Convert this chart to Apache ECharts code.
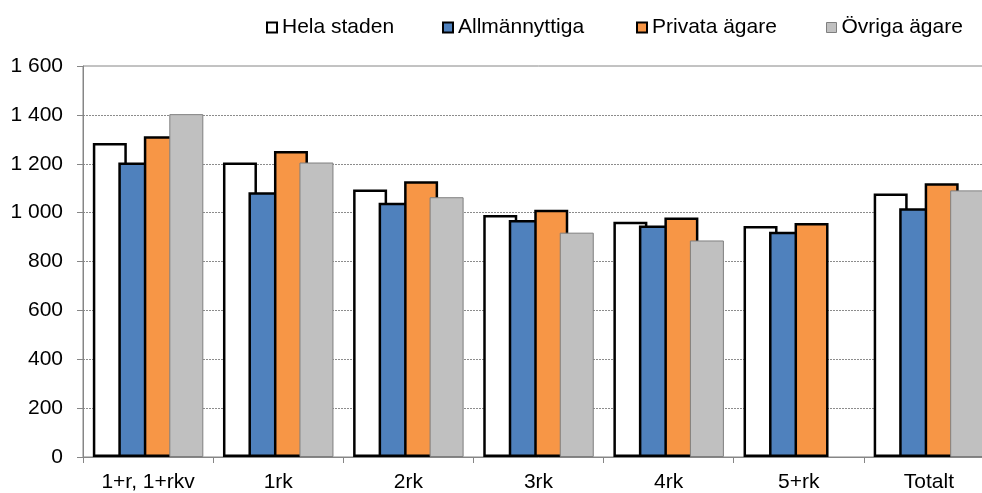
<!DOCTYPE html>
<html>
<head>
<meta charset="utf-8">
<script src="https://cdn.jsdelivr.net/npm/echarts@6/dist/echarts.min.js"></script>
<style>
  html, body { margin: 0; padding: 0; background: #fff; overflow: hidden; }
  #wrap { width: 982px; height: 493px; overflow: hidden; }
  /* plot runs a little past the right edge of the view */
  #chart { width: 994px; height: 493px; }
</style>
</head>
<body>
<div id="wrap"><div id="chart"></div></div>
<script>
// Room types and average rent per owner category
const categories = ['1+r, 1+rkv', '1rk', '2rk', '3rk', '4rk', '5+rk', 'Totalt'];
const seriesNames = ['Hela staden', 'Allmännyttiga', 'Privata ägare', 'Övriga ägare'];
const helaStaden = [1285, 1205, 1095, 990, 963, 945, 1078];
const allmannyttiga = [1205, 1083, 1040, 970, 947, 922, 1018];
const privataAgare = [1313, 1252, 1128, 1012, 980, 958, 1120];
const ovrigaAgare = [1403, 1205, 1063, 918, 886, null, 1091];
const yTicks = { min: 0, max: 1600, step: 200 };

const FONT = '"Liberation Sans", Arial, sans-serif';
const FONT_SIZE = 21;

const styles = [
  { color: '#FFFFFF', borderColor: '#000000', borderWidth: 2.5 },
  { color: '#4F81BD', borderColor: '#000000', borderWidth: 2.5 },
  { color: '#F79646', borderColor: '#000000', borderWidth: 2.5 },
  { color: '#C0C0C0', borderColor: '#7F7F7F', borderWidth: 1 }
];
const values = [helaStaden, allmannyttiga, privataAgare, ovrigaAgare];
const legendLeft = [266, 442, 636, 826];

const fmt = v => String(v).replace(/\B(?=(\d{3})+(?!\d))/g, ' ');

const chart = echarts.init(document.getElementById('chart'), null, { renderer: 'canvas' });

chart.setOption({
  animation: false,
  backgroundColor: '#ffffff',
  textStyle: { fontFamily: FONT },
  legend: seriesNames.map((name, i) => ({
    left: legendLeft[i],
    top: 17,
    padding: 0,
    itemWidth: 10,
    itemHeight: 10,
    itemGap: 0,
    selectedMode: false,
    textStyle: { fontFamily: FONT, fontSize: FONT_SIZE, color: '#000' },
    data: [{
      name: name,
      icon: 'rect',
      itemStyle: {
        color: styles[i].color,
        borderColor: styles[i].borderColor,
        borderWidth: i === 3 ? 1 : 2
      }
    }]
  })),
  grid: {
    left: 83,
    top: 66,
    right: 0,
    bottom: 35,
    show: true,
    borderColor: '#868686',
    borderWidth: 1,
    backgroundColor: 'transparent'
  },
  xAxis: {
    type: 'category',
    data: categories,
    axisLine: { lineStyle: { color: '#868686', width: 1 } },
    axisTick: { show: true, alignWithLabel: false, length: 6, lineStyle: { color: '#868686' } },
    axisLabel: { color: '#000', fontFamily: FONT, fontSize: FONT_SIZE, margin: 15 },
    splitLine: { show: false }
  },
  yAxis: {
    type: 'value',
    min: yTicks.min,
    max: yTicks.max,
    interval: yTicks.step,
    axisLine: { show: true, lineStyle: { color: '#868686', width: 1 } },
    axisTick: { show: true, length: 6, lineStyle: { color: '#868686' } },
    axisLabel: { color: '#000', fontFamily: FONT, fontSize: FONT_SIZE, margin: 20, formatter: fmt },
    splitLine: {
      show: true,
      showMinLine: false,
      showMaxLine: false,
      lineStyle: { color: '#8c8c8c', type: [2, 1], width: 1 }
    }
  },
  series: seriesNames.map((name, i) => ({
    name: name,
    type: 'bar',
    data: values[i],
    barWidth: 34,
    barGap: '-25%',
    itemStyle: styles[i],
    emphasis: { disabled: true }
  }))
});
</script>
</body>
</html>
